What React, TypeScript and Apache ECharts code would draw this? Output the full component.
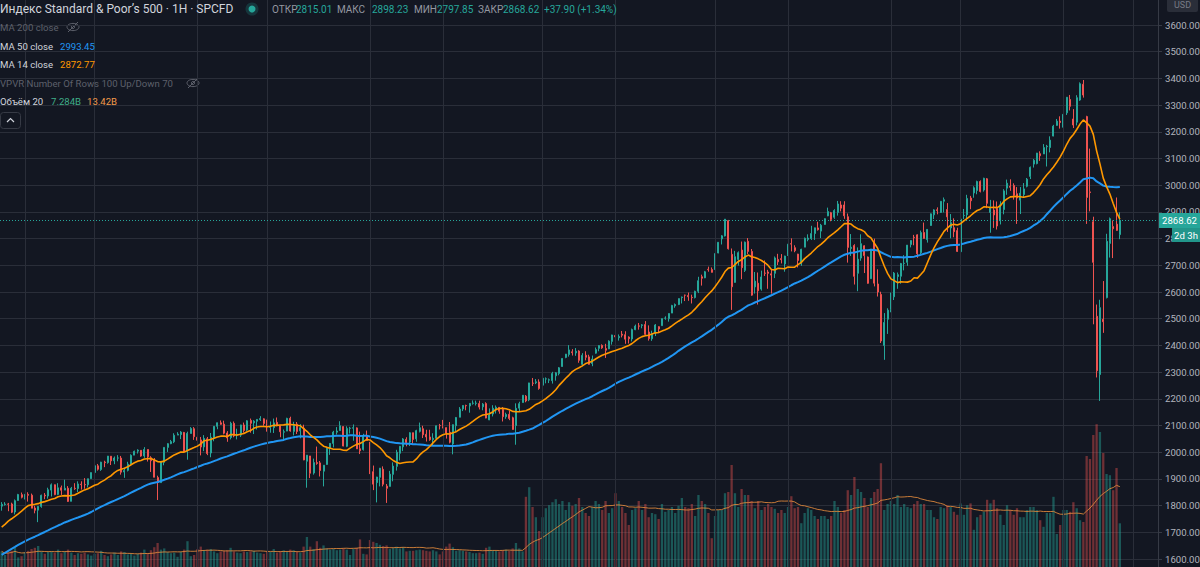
import React, { useEffect, useRef } from "react";
import * as echarts from "echarts";

// ---------- data ----------
const startWeek = "2013-11-18"; // first visible weekly candle
const futureSlots = 11; // empty slots to the right of the last candle

// weekly closes before the first visible candle (used only to seed the moving averages)
const warmupCloses = [
  1416.18, 1418.07, 1413.58, 1430.15, 1402.43, 1466.47, 1472.05, 1485.98, 1502.96, 1513.17,
  1517.93, 1519.79, 1515.6, 1518.2, 1551.18, 1560.7, 1556.89, 1569.19, 1553.28, 1588.85,
  1555.25, 1582.24, 1614.42, 1633.7, 1667.47, 1649.6, 1630.74, 1643.38, 1626.73, 1592.43,
  1606.28, 1631.89, 1680.19, 1692.09, 1691.65, 1709.67, 1691.42, 1655.83, 1663.5, 1632.97,
  1655.17, 1687.99, 1709.91, 1691.75, 1690.5, 1703.2, 1744.5, 1759.77, 1761.64, 1770.61,
  1798.18,
];

// weekly candles: [open, high, low, close]
const candles: number[][] = [
  [1798, 1813, 1781, 1804.76], [1804, 1813, 1800, 1805.81], [1806, 1810, 1779, 1805.09], [1806, 1811, 1772, 1775.32],
  [1776, 1823, 1767, 1818.32], [1819, 1844, 1819, 1841.4], [1841, 1849, 1827, 1831.37], [1832, 1843, 1823, 1842.37],
  [1842, 1850, 1815, 1838.7], [1839, 1845, 1790, 1790.29], [1791, 1799, 1771, 1782.59], [1783, 1798, 1738, 1797.02],
  [1797, 1841, 1792, 1838.63], [1839, 1847, 1824, 1836.25], [1836, 1867, 1826, 1859.45], [1858, 1883, 1834, 1878.04],
  [1878, 1879, 1839, 1841.13], [1842, 1884, 1839, 1866.52], [1867, 1875, 1840, 1857.62], [1858, 1897, 1858, 1865.09],
  [1865, 1873, 1814, 1815.69], [1816, 1870, 1816, 1864.85], [1865, 1884, 1859, 1863.4], [1864, 1891, 1851, 1881.14],
  [1880, 1891, 1860, 1878.48], [1879, 1903, 1863, 1877.86], [1878, 1901, 1868, 1900.53], [1901, 1924, 1901, 1923.57],
  [1924, 1950, 1916, 1949.44], [1949, 1956, 1931, 1936.16], [1935, 1964, 1930, 1962.87], [1963, 1968, 1944, 1960.96],
  [1961, 1986, 1957, 1985.44], [1985, 1985, 1952, 1967.57], [1968, 1984, 1955, 1978.22], [1978, 1989, 1966, 1978.34],
  [1978, 1986, 1916, 1925.15], [1926, 1942, 1904, 1931.59], [1932, 1964, 1928, 1955.06], [1955, 1992, 1955, 1988.4],
  [1989, 2006, 1989, 2003.37], [2004, 2011, 1995, 2007.71], [2007, 2008, 1983, 1985.54], [1986, 2019, 1979, 2010.4],
  [2010, 2010, 1965, 1982.85], [1979, 1985, 1926, 1967.9], [1970, 1978, 1906, 1906.13], [1905, 1912, 1821, 1886.76],
  [1886, 1965, 1886, 1964.58], [1962, 2018, 1951, 2018.05], [2018, 2034, 2001, 2031.92], [2032, 2046, 2030, 2039.82],
  [2039, 2071, 2034, 2063.5], [2064, 2075, 2064, 2067.56], [2066, 2079, 2049, 2075.37], [2074, 2076, 2002, 2002.33],
  [2003, 2077, 1972, 2070.65], [2070, 2094, 2070, 2088.77], [2088, 2094, 2046, 2058.2], [2056, 2064, 1992, 2044.81],
  [2046, 2057, 1988, 2019.42], [2020, 2064, 2004, 2051.82], [2050, 2057, 1989, 1994.99], [1997, 2072, 1981, 2055.47],
  [2053, 2097, 2041, 2096.99], [2097, 2111, 2086, 2110.3], [2110, 2119, 2103, 2104.5], [2105, 2118, 2067, 2071.26],
  [2072, 2079, 2039, 2053.4], [2055, 2114, 2048, 2108.1], [2108, 2115, 2056, 2061.02], [2064, 2088, 2048, 2066.96],
  [2064, 2103, 2057, 2102.06], [2102, 2111, 2073, 2081.18], [2083, 2120, 2080, 2117.69], [2119, 2126, 2073, 2108.29],
  [2110, 2120, 2068, 2116.1], [2116, 2124, 2085, 2122.73], [2122, 2135, 2117, 2126.06], [2125, 2127, 2099, 2107.39],
  [2108, 2122, 2077, 2092.83], [2093, 2115, 2073, 2094.11], [2092, 2126, 2072, 2109.99], [2112, 2130, 2097, 2101.49],
  [2099, 2100, 2056, 2076.78], [2075, 2085, 2044, 2076.62], [2079, 2129, 2079, 2126.64], [2127, 2133, 2077, 2079.65],
  [2078, 2114, 2063, 2103.84], [2105, 2113, 2068, 2077.57], [2080, 2105, 2052, 2091.54], [2090, 2103, 1970, 1970.89],
  [1966, 1989, 1867, 1988.87], [1986, 1986, 1903, 1921.22], [1922, 1976, 1916, 1961.05], [1961, 2021, 1953, 1958.03],
  [1960, 1967, 1909, 1931.34], [1929, 1952, 1872, 1951.36], [1954, 2020, 1953, 2014.89], [2015, 2034, 1990, 2033.11],
  [2033, 2080, 2018, 2075.15], [2075, 2094, 2066, 2079.36], [2081, 2116, 2080, 2099.2], [2096, 2097, 2022, 2023.04],
  [2022, 2097, 2019, 2089.17], [2089, 2095, 2070, 2090.11], [2090, 2104, 2043, 2091.69], [2091, 2093, 2012, 2012.37],
  [2013, 2077, 1993, 2005.55], [2010, 2069, 2006, 2060.99], [2058, 2081, 2043, 2043.94], [2038, 2038, 1918, 1922.03],
  [1927, 1950, 1858, 1880.33], [1886, 1908, 1812, 1906.9], [1906, 1941, 1872, 1940.24], [1936, 1947, 1872, 1880.05],
  [1873, 1881, 1810, 1864.78], [1872, 1930, 1872, 1917.78], [1917, 1962, 1891, 1948.05], [1947, 2009, 1931, 1999.99],
  [1996, 2023, 1969, 2022.19], [2020, 2053, 2004, 2049.58], [2048, 2056, 2022, 2035.94], [2038, 2075, 2023, 2072.78],
  [2073, 2073, 2033, 2047.6], [2050, 2084, 2039, 2080.73], [2078, 2111, 2074, 2091.58], [2088, 2099, 2053, 2065.3],
  [2067, 2084, 2040, 2057.14], [2057, 2084, 2043, 2046.61], [2047, 2071, 2025, 2052.32], [2052, 2100, 2049, 2099.06],
  [2100, 2106, 2085, 2099.13], [2100, 2121, 2089, 2096.07], [2092, 2093, 2051, 2071.22], [2075, 2113, 2033, 2037.41],
  [2031, 2104, 1992, 2102.95], [2099, 2132, 2075, 2129.9], [2131, 2169, 2131, 2161.74], [2162, 2176, 2154, 2175.03],
  [2175, 2178, 2157, 2173.6], [2173, 2184, 2148, 2182.87], [2183, 2194, 2178, 2184.05], [2183, 2193, 2175, 2183.87],
  [2182, 2193, 2160, 2169.04], [2170, 2184, 2157, 2179.98], [2182, 2187, 2127, 2127.81], [2121, 2164, 2120, 2139.16],
  [2143, 2176, 2134, 2164.69], [2158, 2175, 2145, 2168.27], [2168, 2169, 2144, 2153.74], [2160, 2169, 2115, 2132.98],
  [2133, 2148, 2125, 2141.16], [2142, 2155, 2120, 2126.41], [2129, 2133, 2084, 2085.18], [2100, 2183, 2028, 2164.45],
  [2165, 2189, 2151, 2181.9], [2186, 2214, 2186, 2213.35], [2210, 2214, 2187, 2191.95], [2196, 2260, 2191, 2259.53],
  [2259, 2278, 2248, 2258.07], [2260, 2274, 2255, 2263.79], [2263, 2273, 2234, 2238.83], [2251, 2282, 2246, 2276.98],
  [2274, 2280, 2258, 2274.64], [2270, 2276, 2259, 2271.31], [2268, 2301, 2257, 2294.69], [2286, 2300, 2268, 2297.42],
  [2295, 2319, 2288, 2316.1], [2321, 2352, 2320, 2351.16], [2355, 2368, 2352, 2367.34], [2366, 2401, 2358, 2383.12],
  [2376, 2386, 2362, 2372.6], [2372, 2390, 2361, 2378.25], [2379, 2382, 2335, 2343.98], [2329, 2371, 2322, 2362.72],
  [2363, 2378, 2344, 2355.54], [2357, 2365, 2328, 2328.95], [2332, 2362, 2322, 2348.69], [2371, 2392, 2369, 2384.2],
  [2389, 2401, 2378, 2399.29], [2400, 2404, 2387, 2390.9], [2388, 2406, 2353, 2381.73], [2387, 2419, 2386, 2415.82],
  [2415, 2440, 2403, 2439.07], [2437, 2446, 2415, 2431.77], [2429, 2441, 2418, 2433.15], [2442, 2454, 2430, 2438.3],
  [2440, 2453, 2406, 2423.41], [2431, 2434, 2407, 2425.18], [2424, 2463, 2415, 2459.27], [2459, 2478, 2457, 2472.54],
  [2473, 2484, 2459, 2472.1], [2475, 2480, 2464, 2476.83], [2478, 2491, 2437, 2441.32], [2450, 2475, 2418, 2425.55],
  [2425, 2455, 2417, 2443.05], [2447, 2480, 2435, 2476.55], [2470, 2472, 2446, 2461.43], [2474, 2501, 2474, 2500.23],
  [2502, 2509, 2496, 2502.22], [2500, 2520, 2489, 2519.36], [2521, 2552, 2521, 2549.33], [2548, 2557, 2541, 2553.17],
  [2553, 2576, 2551, 2575.21], [2579, 2583, 2557, 2581.07], [2588, 2590, 2566, 2587.84], [2587, 2598, 2567, 2582.3],
  [2580, 2590, 2557, 2578.85], [2579, 2605, 2576, 2602.42], [2603, 2657, 2596, 2642.22], [2657, 2665, 2624, 2651.5],
  [2653, 2679, 2652, 2675.81], [2685, 2695, 2676, 2683.34], [2684, 2692, 2673, 2673.61], [2684, 2745, 2683, 2743.15],
  [2746, 2787, 2745, 2786.24], [2799, 2813, 2778, 2810.3], [2810, 2873, 2808, 2872.87], [2867, 2870, 2759, 2762.13],
  [2741, 2763, 2533, 2619.55], [2636, 2754, 2635, 2732.22], [2722, 2752, 2699, 2747.3], [2757, 2789, 2648, 2691.25],
  [2681, 2789, 2675, 2786.57], [2790, 2802, 2742, 2752.01], [2752, 2761, 2586, 2588.26], [2619, 2675, 2594, 2640.87],
  [2633, 2673, 2553, 2604.47], [2611, 2680, 2605, 2656.3], [2671, 2718, 2660, 2670.14], [2675, 2683, 2612, 2669.91],
  [2668, 2683, 2594, 2663.42], [2670, 2733, 2652, 2727.72], [2722, 2743, 2701, 2712.97], [2725, 2742, 2707, 2721.33],
  [2705, 2736, 2676, 2734.62], [2742, 2780, 2735, 2779.03], [2781, 2801, 2752, 2779.42], [2766, 2775, 2749, 2754.88],
  [2742, 2743, 2692, 2718.37], [2705, 2762, 2698, 2759.82], [2768, 2804, 2768, 2801.31], [2797, 2816, 2790, 2801.83],
  [2800, 2848, 2795, 2818.82], [2819, 2841, 2795, 2840.35], [2840, 2863, 2830, 2833.28], [2828, 2855, 2802, 2850.13],
  [2853, 2876, 2852, 2874.69], [2885, 2916, 2884, 2901.52], [2897, 2900, 2865, 2871.68], [2880, 2910, 2874, 2904.98],
  [2898, 2941, 2886, 2929.67], [2926, 2940, 2902, 2913.98], [2926, 2940, 2874, 2885.57], [2882, 2894, 2710, 2767.13],
  [2763, 2817, 2735, 2767.78], [2774, 2779, 2628, 2658.69], [2670, 2767, 2603, 2723.06], [2727, 2816, 2717, 2781.01],
  [2773, 2775, 2671, 2736.27], [2731, 2733, 2631, 2632.56], [2650, 2761, 2649, 2760.17], [2790, 2800, 2621, 2633.08],
  [2630, 2685, 2583, 2599.95], [2591, 2601, 2409, 2416.62], [2400, 2521, 2346, 2485.74], [2498, 2539, 2443, 2531.94],
  [2535, 2597, 2524, 2596.26], [2582, 2675, 2570, 2670.71], [2658, 2673, 2612, 2664.76], [2659, 2709, 2631, 2706.53],
  [2707, 2738, 2681, 2707.88], [2711, 2776, 2698, 2775.6], [2778, 2794, 2767, 2792.67], [2805, 2814, 2775, 2803.69],
  [2814, 2816, 2728, 2743.07], [2747, 2830, 2740, 2822.48], [2823, 2860, 2800, 2800.71], [2796, 2836, 2785, 2834.4],
  [2849, 2894, 2848, 2892.74], [2889, 2910, 2873, 2907.41], [2908, 2917, 2891, 2905.03], [2898, 2940, 2896, 2939.88],
  [2940, 2954, 2898, 2945.64], [2909, 2933, 2825, 2881.4], [2840, 2892, 2801, 2859.53], [2841, 2876, 2805, 2826.06],
  [2830, 2841, 2750, 2752.06], [2751, 2876, 2728, 2873.34], [2886, 2911, 2873, 2886.98], [2889, 2964, 2874, 2950.46],
  [2952, 2960, 2910, 2941.76], [2971, 2996, 2953, 2990.41], [2980, 3017, 2966, 3013.77], [3014, 3018, 2973, 2976.61],
  [2982, 3028, 2976, 3025.86], [3024, 3027, 2914, 2932.05], [2898, 2945, 2822, 2918.65], [2907, 2943, 2840, 2888.68],
  [2913, 2939, 2834, 2847.11], [2867, 2940, 2853, 2926.46], [2909, 2985, 2891, 2978.71], [2989, 3021, 2964, 3007.39],
  [2996, 3022, 2979, 2992.07], [2999, 3007, 2946, 2961.79], [2968, 2993, 2855, 2952.01], [2944, 2993, 2892, 2970.27],
  [2965, 3008, 2952, 2986.2], [2996, 3027, 2992, 3022.55], [3033, 3070, 3023, 3066.91], [3079, 3098, 3066, 3093.08],
  [3081, 3121, 3078, 3120.46], [3118, 3127, 3091, 3110.29], [3117, 3154, 3117, 3140.98], [3144, 3151, 3070, 3145.91],
  [3141, 3183, 3123, 3168.8], [3184, 3226, 3183, 3221.22], [3224, 3248, 3223, 3240.02], [3240, 3258, 3212, 3234.85],
  [3217, 3282, 3215, 3265.35], [3271, 3330, 3263, 3329.62], [3321, 3338, 3280, 3295.47], [3248, 3285, 3214, 3225.52],
  [3236, 3337, 3224, 3327.71], [3319, 3385, 3316, 3380.16], [3378, 3394, 3328, 3337.75], [3257, 3260, 2855, 2954.22],
  [2975, 3137, 2902, 2972.37], [2863, 2882, 2479, 2711.02], [2509, 2553, 2280, 2304.92], [2291, 2571, 2192, 2541.47],
  [2498, 2641, 2447, 2488.65], [2579, 2818, 2576, 2789.82], [2782, 2879, 2729, 2874.56], [2845, 2868, 2727, 2836.74],
  [2854, 2954, 2834, 2830.71], [2815.01, 2898.23, 2797.85, 2868.62],
];

// weekly volume, billions
const volumes = [
  2.6, 2.0, 2.4, 2.7, 3.3, 1.6, 1.8, 2.5, 2.7, 3.0,
  3.2, 3.5, 2.6, 2.2, 2.5, 2.6, 2.4, 2.9, 2.3, 2.6,
  2.9, 2.4, 2.0, 2.3, 2.2, 2.4, 2.1, 1.9, 2.2, 2.3,
  2.7, 2.0, 1.8, 2.1, 2.4, 2.0, 2.6, 2.5, 2.1, 2.2,
  1.9, 2.2, 2.4, 2.9, 2.3, 2.8, 3.3, 4.0, 2.9, 3.1,
  2.5, 2.3, 2.4, 1.7, 2.5, 2.9, 4.3, 1.8, 2.0, 3.0,
  3.4, 2.8, 2.9, 3.0, 2.6, 2.3, 2.6, 2.7, 2.8, 3.2,
  2.6, 2.4, 2.3, 2.6, 2.5, 2.6, 2.7, 2.4, 2.3, 2.2,
  2.6, 2.5, 3.0, 2.4, 2.6, 2.8, 2.6, 2.9, 2.8, 2.5,
  2.4, 3.4, 5.0, 3.4, 3.0, 4.3, 3.2, 3.6, 3.1, 2.9,
  3.0, 2.8, 2.9, 3.1, 2.9, 2.0, 3.0, 3.2, 4.6, 2.2,
  2.1, 4.5, 4.2, 4.0, 3.7, 3.5, 3.6, 3.0, 3.2, 3.4,
  3.1, 3.3, 2.6, 2.7, 2.7, 2.8, 2.9, 2.8, 2.7, 2.6,
  2.8, 2.6, 2.1, 2.6, 3.4, 3.9, 3.3, 2.7, 2.8, 2.7,
  2.6, 2.5, 2.3, 2.3, 2.4, 2.2, 3.2, 3.4, 2.8, 2.7,
  2.6, 2.8, 2.9, 2.7, 3.1, 4.0, 3.1, 2.6, 11.7, 13.3,
  10.0, 8.3, 6.0, 8.3, 9.8, 10.3, 10.8, 11.3, 10.5, 11.0,
  9.5, 10.8, 10.2, 10.5, 11.5, 10.0, 9.0, 8.5, 10.0, 11.0,
  10.5, 9.5, 11.0, 9.0, 9.8, 12.3, 11.0, 10.0, 9.0, 7.0,
  9.5, 9.8, 11.0, 9.5, 10.5, 8.3, 9.0, 8.8, 8.0, 10.5,
  9.2, 9.5, 10.0, 9.0, 10.2, 11.5, 10.0, 9.8, 10.5, 8.5,
  12.0, 11.0, 10.5, 9.0, 4.8, 8.5, 9.5, 9.5, 12.3, 12.5,
  17.0, 12.3, 10.0, 13.0, 12.0, 12.0, 11.0, 9.8, 11.0, 9.5,
  10.0, 10.5, 10.0, 9.7, 9.0, 9.5, 9.0, 10.0, 11.8, 9.8,
  10.0, 7.3, 9.0, 9.8, 9.5, 8.5, 8.0, 8.5, 8.5, 8.0,
  8.5, 11.0, 10.0, 9.0, 9.5, 12.8, 12.0, 15.0, 13.0, 12.5,
  11.5, 10.0, 11.5, 12.5, 13.0, 17.3, 9.5, 10.5, 11.0, 10.5,
  12.0, 10.0, 10.5, 10.0, 9.8, 10.5, 11.0, 10.5, 10.5, 9.5,
  9.5, 8.3, 8.0, 10.0, 9.8, 10.3, 10.0, 9.2, 8.7, 10.6,
  8.7, 10.3, 10.6, 6.2, 8.3, 8.7, 9.2, 11.2, 10.6, 11.2,
  9.8, 8.7, 7.0, 10.3, 9.5, 8.7, 9.8, 8.3, 8.3, 9.5,
  10.0, 10.0, 9.5, 7.8, 6.7, 9.0, 9.0, 11.7, 5.5, 7.0,
  9.5, 9.5, 9.2, 10.8, 9.8, 7.8, 7.5, 18.5, 18.0, 22.0,
  23.8, 22.5, 19.0, 15.5, 15.3, 12.8, 16.5, 7.284,
];

// week slots that carry a vertical grid line (Jan / Jun of each year)
const gridWeeks = [7, 28, 59, 80, 111, 133, 163, 185, 215, 237, 268, 289, 320, 341];

const lastPrice = 2868.62;
const priceMin = 1500;
const priceMax = 3700;
const priceStep = 100;
const volumeMax = 94.5;

// ---------- styles ----------
const BG = "#131722";
const GRID = "#2a2e39";
const UP = "#26a69a";
const DOWN = "#ef5350";
const TXT = "#d1d4dc";
const DIM = "#5d606b";
const LBL = "#9598a1";
const FONT = "Roboto, 'Noto Sans', sans-serif";

function sma(values: number[], period: number, skip: number) {
  const out: number[] = [];
  for (let i = skip; i < values.length; i++) {
    const from = Math.max(0, i - period + 1);
    let s = 0;
    for (let j = from; j <= i; j++) s += values[j];
    out.push(+(s / (i - from + 1)).toFixed(2));
  }
  return out;
}

function txt(x: number, y: number, text: string, fill: string, size = 9.6, align = "left") {
  return {
    type: "text",
    x,
    y,
    z: 100,
    style: { text, fill, font: `${size}px ${FONT}`, verticalAlign: "middle", align },
  };
}

function eyeOff(cx: number, cy: number) {
  return {
    type: "group",
    x: cx,
    y: cy,
    z: 100,
    children: [
      { type: "ellipse", shape: { cx: 0, cy: 0, rx: 6, ry: 3.6 }, style: { fill: "none", stroke: DIM, lineWidth: 1 } },
      { type: "circle", shape: { cx: 0, cy: 0, r: 1.6 }, style: { fill: "none", stroke: DIM, lineWidth: 1 } },
      { type: "line", shape: { x1: -5, y1: 5, x2: 5, y2: -5 }, style: { stroke: DIM, lineWidth: 1 } },
    ],
  };
}

export default function App() {
  const ref = useRef<HTMLDivElement>(null);

  useEffect(() => {
    const chart = echarts.init(ref.current!, undefined, { renderer: "svg" });
    const n = candles.length;
    const total = n + futureSlots;
    const t0 = new Date(startWeek + "T00:00:00Z").getTime();
    const categories = Array.from({ length: total }, (_, i) =>
      new Date(t0 + i * 7 * 86400000).toISOString().slice(0, 10)
    );
    const closes = candles.map((c) => c[3]);
    const all = warmupCloses.concat(closes);
    const ma50 = sma(all, 50, warmupCloses.length);
    const ma14 = sma(all, 14, warmupCloses.length);
    const volMa = sma(volumes, 20, 0);
    const kData = candles.map(([o, h, l, c]) => [o, c, l, h]);
    const volData = volumes.map((v, i) => ({
      value: v,
      itemStyle: {
        color: candles[i][3] >= candles[i][0] ? "rgba(38,166,154,0.45)" : "rgba(239,83,80,0.42)",
      },
    }));

    // price pane: 1600 at y=559, 3600 at y=25
    const plotH = ((priceMax - priceMin) / 2000) * 534;
    const plotTop = 25 - ((priceMax - 3600) / 2000) * 534;

    const option: any = {
      animation: false,
      backgroundColor: BG,
      textStyle: { fontFamily: FONT },
      grid: [
        { left: 0, right: 42, top: plotTop, height: plotH, outerBoundsMode: "none", containLabel: false },
        { left: 0, right: 42, top: 0, height: 567, outerBoundsMode: "none", containLabel: false },
      ],
      xAxis: [
        {
          type: "category",
          gridIndex: 0,
          data: categories,
          boundaryGap: true,
          axisLine: { show: false },
          axisTick: { show: false },
          axisLabel: { show: false },
          splitLine: { show: false },
        },
        {
          type: "category",
          gridIndex: 1,
          data: categories,
          boundaryGap: true,
          axisLine: { show: false },
          axisTick: { show: false },
          axisLabel: { show: false },
          splitLine: { show: false },
        },
      ],
      yAxis: [
        {
          type: "value",
          gridIndex: 0,
          position: "right",
          min: priceMin,
          max: priceMax,
          interval: priceStep,
          axisLine: { show: true, lineStyle: { color: "#363a45" } },
          axisTick: { show: true, length: 4, lineStyle: { color: "#363a45" } },
          axisLabel: {
            color: "#b2b5be",
            fontSize: 9.6,
            fontFamily: FONT,
            margin: 7,
            showMaxLabel: false,
            showMinLabel: false,
            formatter: (v: number) => v.toFixed(2),
          },
          splitLine: { show: true, lineStyle: { color: GRID, width: 1 } },
        },
        {
          type: "value",
          gridIndex: 1,
          min: 0,
          max: volumeMax,
          show: false,
          splitLine: { show: false },
        },
      ],
      series: [
        {
          name: "Volume",
          type: "bar",
          xAxisIndex: 1,
          yAxisIndex: 1,
          data: volData,
          barWidth: 2.3,
          z: 1,
          silent: true,
          markLine: {
            silent: true,
            symbol: ["none", "none"],
            label: { show: false },
            lineStyle: { color: GRID, width: 1, type: "solid" },
            data: gridWeeks.map((w) => ({ xAxis: w })),
          },
        },
        {
          name: "Volume MA 20",
          type: "line",
          xAxisIndex: 1,
          yAxisIndex: 1,
          data: volMa,
          symbol: "none",
          lineStyle: { color: "rgba(230,140,60,0.85)", width: 1 },
          z: 2,
          silent: true,
        },
        {
          name: "SPCFD",
          type: "candlestick",
          xAxisIndex: 0,
          yAxisIndex: 0,
          data: kData,
          barWidth: 1.5,
          z: 3,
          itemStyle: {
            color: UP,
            color0: DOWN,
            borderColor: UP,
            borderColor0: DOWN,
            borderWidth: 1,
          },
          markLine: {
            silent: true,
            symbol: ["none", "none"],
            label: { show: false },
            lineStyle: { color: UP, width: 1, type: [1, 2] },
            data: [{ yAxis: lastPrice }],
          },
        },
        {
          name: "MA 50",
          type: "line",
          xAxisIndex: 0,
          yAxisIndex: 0,
          data: ma50,
          symbol: "none",
          lineStyle: { color: "#2196f3", width: 2 },
          z: 4,
          silent: true,
        },
        {
          name: "MA 14",
          type: "line",
          xAxisIndex: 0,
          yAxisIndex: 0,
          data: ma14,
          symbol: "none",
          lineStyle: { color: "#ff9800", width: 1.6 },
          z: 5,
          silent: true,
        },
      ],
      graphic: [
        // header
        txt(0, 9, "Индекс Standard & Poor’s 500 · 1H · SPCFD", TXT, 12),
        { type: "circle", z: 100, shape: { cx: 252, cy: 9, r: 6.5 }, style: { fill: "rgba(38,166,154,0.22)" } },
        { type: "circle", z: 101, shape: { cx: 252, cy: 9, r: 3.5 }, style: { fill: UP } },
        txt(272, 9, "ОТКР", LBL, 10),
        txt(296, 9, "2815.01", UP, 10),
        txt(337, 9, "МАКС", LBL, 10),
        txt(372, 9, "2898.23", UP, 10),
        txt(414, 9, "МИН", LBL, 10),
        txt(437, 9, "2797.85", UP, 10),
        txt(478, 9, "ЗАКР", LBL, 10),
        txt(503, 9, "2868.62", UP, 10),
        txt(544, 9, "+37.90 (+1.34%)", UP, 10),
        // indicator legend
        txt(0, 27, "MA 200 close", DIM),
        eyeOff(73, 27),
        txt(0, 46, "MA 50 close", TXT),
        txt(60, 46, "2993.45", "#2196f3"),
        txt(0, 64, "MA 14 close", TXT),
        txt(60, 64, "2872.77", "#ff9800"),
        txt(0, 83, "VPVR Number Of Rows 100 Up/Down 70", DIM),
        eyeOff(193, 83),
        txt(0, 101, "Объём 20", TXT),
        txt(51, 101, "7.284B", "#3fae88"),
        txt(87, 101, "13.42B", "#f29a4a"),
        {
          type: "rect",
          z: 100,
          shape: { x: 0.5, y: 112.5, width: 20, height: 16, r: 3 },
          style: { fill: BG, stroke: "#363a45", lineWidth: 1 },
        },
        {
          type: "polyline",
          z: 101,
          shape: { points: [[7, 122], [10.5, 118.5], [14, 122]] },
          style: { fill: "none", stroke: TXT, lineWidth: 1.2 },
        },
        // right side badges
        {
          type: "rect",
          z: 100,
          shape: { x: 1167, y: -3, width: 31, height: 15, r: 2 },
          style: { fill: "#2a2e39" },
        },
        txt(1182.5, 5, "USD", "#787b86", 9, "center"),
        {
          type: "rect",
          z: 100,
          shape: { x: 1159, y: 213, width: 41, height: 15 },
          style: { fill: UP },
        },
        txt(1179.5, 220.5, "2868.62", "#ffffff", 9.6, "center"),
        {
          type: "rect",
          z: 100,
          shape: { x: 1172, y: 228, width: 28, height: 14 },
          style: { fill: "#22968b" },
        },
        txt(1186, 235, "2d 3h", "#ffffff", 9.6, "center"),
      ],
    };

    chart.setOption(option);
    return () => chart.dispose();
  }, []);

  return (
    <div
      ref={ref}
      style={{ position: "fixed", left: 0, top: 0, width: 1200, height: 567, background: BG }}
    />
  );
}
